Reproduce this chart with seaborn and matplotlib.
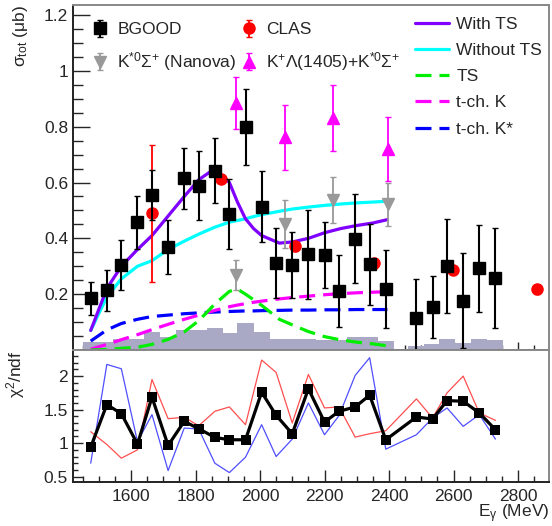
import numpy as np
import matplotlib
matplotlib.use('Agg')
import matplotlib.pyplot as plt
from matplotlib.ticker import MultipleLocator
from matplotlib.lines import Line2D
import seaborn as sns

sns.set_style('white')
plt.rcParams['font.family'] = ['Liberation Sans', 'DejaVu Sans']
plt.rcParams['mathtext.fontset'] = 'custom'
plt.rcParams['mathtext.rm'] = 'Liberation Sans'
plt.rcParams['mathtext.it'] = 'Liberation Sans:italic'
plt.rcParams['mathtext.sf'] = 'Liberation Sans'

# BGOOD cross section (ub)
e_bgood = [1475, 1525, 1570, 1620, 1665, 1715, 1765, 1810, 1860, 1905, 1955, 2005, 2050,
           2100, 2150, 2200, 2245, 2295, 2340, 2390, 2485, 2535, 2580, 2630, 2680, 2730]
sig_bgood = [0.185, 0.214, 0.304, 0.458, 0.556, 0.369, 0.615, 0.589, 0.643, 0.488, 0.798, 0.514, 0.312,
             0.304, 0.343, 0.340, 0.212, 0.399, 0.307, 0.218, 0.115, 0.155, 0.301, 0.176, 0.292, 0.258]
err_bgood = [0.06, 0.074, 0.089, 0.095, 0.089, 0.095, 0.11, 0.124, 0.115, 0.125, 0.136, 0.126, 0.125,
             0.119, 0.159, 0.119, 0.128, 0.159, 0.146, 0.14, 0.141, 0.111, 0.167, 0.17, 0.156, 0.178]
# systematic histogram
sys_bgood = [0.027, 0.027, 0.038, 0.040, 0.065, 0.045, 0.070, 0.072, 0.078, 0.060, 0.098, 0.065, 0.038,
             0.038, 0.040, 0.036, 0.036, 0.048, 0.045, 0.032, 0.015, 0.021, 0.038, 0.024, 0.038, 0.035]

# CLAS
e_clas = [1665, 1878, 2110, 2355, 2598, 2858]
sig_clas = [0.49, 0.613, 0.371, 0.31, 0.286, 0.217]
err_clas = [0.245, 0.015, 0.015, 0.015, 0.015, 0.015]

# K*0 Sigma+ (Nanova) and K+ L(1405) + K*0 Sigma+
e_nanova = [1925, 2076, 2225, 2398]
sig_nanova = [0.268, 0.452, 0.537, 0.523]
err_nanova = [0.054, 0.085, 0.083, 0.077]
sig_lam = [0.885, 0.762, 0.831, 0.72]
err_lam = [0.092, 0.117, 0.118, 0.115]

# model curves
e_model = [1475, 1525, 1570, 1620, 1665, 1715, 1765, 1810, 1860, 1905, 1930, 1955, 1980, 2005,
           2060, 2100, 2150, 2200, 2250, 2300, 2350, 2395]
with_ts = [0.07, 0.22, 0.30, 0.36, 0.41, 0.48, 0.55, 0.61, 0.65, 0.60, 0.53, 0.47, 0.435, 0.41,
           0.383, 0.387, 0.40, 0.42, 0.435, 0.446, 0.455, 0.467]
without_ts = [0.07, 0.19, 0.255, 0.30, 0.32, 0.36, 0.39, 0.415, 0.44, 0.458, 0.464, 0.47, 0.478, 0.485,
              0.497, 0.505, 0.512, 0.518, 0.523, 0.527, 0.53, 0.533]
ts = [0.0, 0.002, 0.006, 0.01, 0.02, 0.038, 0.065, 0.105, 0.165, 0.21, 0.218, 0.2, 0.18, 0.16,
      0.11, 0.09, 0.066, 0.048, 0.036, 0.028, 0.022, 0.015]
tch_k = [0.003, 0.02, 0.037, 0.055, 0.073, 0.092, 0.11, 0.125, 0.142, 0.155, 0.161, 0.166, 0.171, 0.175,
         0.183, 0.188, 0.193, 0.198, 0.202, 0.205, 0.207, 0.209]
tch_kstar = [0.032, 0.072, 0.095, 0.11, 0.12, 0.125, 0.13, 0.133, 0.136, 0.138, 0.139, 0.14, 0.14, 0.141,
             0.142, 0.143, 0.143, 0.144, 0.144, 0.145, 0.145, 0.145]

# chi2/ndf
chi_black = [0.94, 1.575, 1.44, 0.985, 1.685, 0.965, 1.325, 1.215, 1.085, 1.05, 1.05, 1.76, 1.415,
             1.14, 1.81, 1.315, 1.475, 1.54, 1.715, 1.05, 1.39, 1.36, 1.635, 1.625, 1.45, 1.2]
chi_red = [1.17, 0.98, 0.775, 0.9, 1.95, 1.365, 1.385, 1.26, 1.475, 1.54, 1.275, 2.24, 2.055,
           1.3, 2.025, 1.525, 1.54, 1.09, 1.14, 1.185, 1.66, 1.375, 1.75, 2.0, 1.45, 1.34]
chi_blue = [0.7, 2.175, 2.11, 1.02, 1.425, 0.59, 1.225, 1.21, 0.7, 0.56, 0.79, 1.275, 0.8,
            1.06, 1.6, 1.125, 1.41, 2.01, 2.275, 0.91, 1.125, 1.375, 1.525, 1.25, 1.425, 1.06]

fs = 12.5
fig = plt.figure(figsize=(5.52, 5.26), dpi=100)
ax = fig.add_axes([0.1322, 0.3346, 0.8623, 0.6559])
ax2 = fig.add_axes([0.1322, 0.0837, 0.8623, 0.2509], sharex=ax)

# top panel
ax.bar(e_bgood, sys_bgood, width=50, color='#a9a9c6', linewidth=0, zorder=1)
dsh = (5, 2.5)
sns.lineplot(x=e_model, y=tch_kstar, ax=ax, color='#0000ff', lw=2.3, dashes=dsh, zorder=2)
sns.lineplot(x=e_model, y=tch_k, ax=ax, color='#ff00ff', lw=2.3, dashes=dsh, zorder=2)
sns.lineplot(x=e_model, y=ts, ax=ax, color='#00ee00', lw=2.3, dashes=dsh, zorder=2)
sns.lineplot(x=e_model, y=without_ts, ax=ax, color='#00ffff', lw=2.3, zorder=2)
sns.lineplot(x=e_model, y=with_ts, ax=ax, color='#8000ff', lw=2.3, zorder=2)

h_nan = ax.errorbar(e_nanova, sig_nanova, yerr=err_nanova, fmt='v', color='#999999', ms=8,
                    elinewidth=1.3, capsize=2, zorder=3)
h_lam = ax.errorbar(e_nanova, sig_lam, yerr=err_lam, fmt='^', color='#ff00ff', ms=8,
                    elinewidth=1.3, capsize=2, zorder=3)
h_clas = ax.errorbar(e_clas, sig_clas, yerr=err_clas, fmt='o', color='#ff0000', ms=8,
                     elinewidth=1.3, capsize=2, zorder=4)
h_bg = ax.errorbar(e_bgood, sig_bgood, yerr=err_bgood, fmt='s', color='black', ms=8.5,
                   elinewidth=1.5, capsize=2, zorder=5)

ax.set_xlim(1420, 2896)
ax.set_ylim(0, 1.236)
ax.yaxis.set_minor_locator(MultipleLocator(0.05))
ax.set_yticks([0.2, 0.4, 0.6, 0.8, 1.0, 1.2], ['0.2', '0.4', '0.6', '0.8', '1', '1.2'])
ax.xaxis.set_major_locator(MultipleLocator(200))
ax.xaxis.set_minor_locator(MultipleLocator(50))
ax.tick_params(axis='x', which='both', direction='in', labelbottom=False, bottom=True)
ax.tick_params(axis='x', which='major', length=5.8, width=1)
ax.tick_params(axis='x', which='minor', length=3.6, width=1)
ax.tick_params(axis='y', which='both', direction='in', left=True, labelsize=fs)
ax.tick_params(axis='y', which='major', length=12, width=1)
ax.tick_params(axis='y', which='minor', length=7, width=1)
ax.set_ylabel('σ$_{\\rm tot}$ (μb)', fontsize=fs, loc='top', labelpad=10)

leg1 = ax.legend([h_bg, h_nan, h_clas, h_lam],
                 ['BGOOD', 'K$^{*0}$Σ$^{+}$ (Nanova)', 'CLAS', 'K$^{+}$Λ(1405)+K$^{*0}$Σ$^{+}$'],
                 ncol=2, loc='upper left', bbox_to_anchor=(0.035, 0.95), frameon=False,
                 fontsize=fs, handlelength=1.2, handletextpad=0.4, columnspacing=0.1,
                 labelspacing=0.75, borderaxespad=0, borderpad=0)
ax.add_artist(leg1)
line_handles = [Line2D([], [], color='#8000ff', lw=2.3),
                Line2D([], [], color='#00ffff', lw=2.3),
                Line2D([], [], color='#00ee00', lw=2.3, dashes=dsh),
                Line2D([], [], color='#ff00ff', lw=2.3, dashes=dsh),
                Line2D([], [], color='#0000ff', lw=2.3, dashes=dsh)]
ax.legend(line_handles, ['With TS', 'Without TS', 'TS', 't-ch. K', 't-ch. K*'],
          loc='upper left', bbox_to_anchor=(0.718, 0.965), frameon=False, fontsize=fs,
          handlelength=2.0, handletextpad=0.4, labelspacing=0.63, borderaxespad=0, borderpad=0)

# bottom panel
sns.lineplot(x=e_bgood, y=chi_red, ax=ax2, color='#ff3030', lw=0.9, alpha=0.85)
sns.lineplot(x=e_bgood, y=chi_blue, ax=ax2, color='#3030ff', lw=0.9, alpha=0.85)
sns.lineplot(x=e_bgood, y=chi_black, ax=ax2, color='black', lw=2.3, marker='s', ms=6.5,
             markeredgewidth=0)
ax2.set_ylim(0.42, 2.39)
ax2.set_yticks([0.5, 1, 1.5, 2], ['0.5', '1', '1.5', '2'])
ax2.yaxis.set_minor_locator(MultipleLocator(0.1))
ax2.set_xticks([1600, 1800, 2000, 2200, 2400, 2600, 2800])
ax2.xaxis.set_minor_locator(MultipleLocator(50))
ax2.set_xlim(1420, 2896)
ax2.tick_params(axis='both', which='both', direction='in', labelsize=fs, bottom=True, left=True)
ax2.tick_params(axis='x', which='major', length=8.6, width=1, pad=5)
ax2.tick_params(axis='x', which='minor', length=4.3, width=1)
ax2.tick_params(axis='y', which='major', length=7, width=1)
ax2.tick_params(axis='y', which='minor', length=3.5, width=1)
ax2.set_ylabel('χ$^{2}$/ndf', fontsize=fs, loc='top', labelpad=12)
ax2.set_xlabel('E$_{\\rm γ}$ (MeV)', fontsize=fs, loc='right')
ax2.xaxis.set_label_coords(1.0, -0.155)

for a in (ax, ax2):
    for s in ('left', 'bottom'):
        a.spines[s].set_color('#222222')
        a.spines[s].set_linewidth(1.4)
    for s in ('top', 'right'):
        a.spines[s].set_color('#888888')
        a.spines[s].set_linewidth(1.4)

fig.savefig('out.png', dpi=100)
